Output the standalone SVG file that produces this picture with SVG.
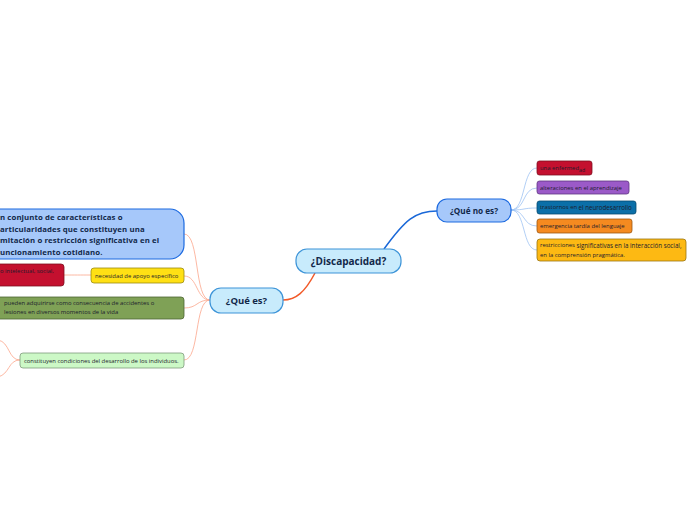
<svg xmlns="http://www.w3.org/2000/svg" width="696" height="520" viewBox="0 0 696 520">
<style>
text{font-family:"Open Sans","Noto Sans","Liberation Sans",sans-serif;fill:#1c1c2c}
.main{font-weight:bold;fill:#12284a;text-anchor:middle}
.sm{font-size:5.9px}
.big{font-size:7.8px;font-weight:bold;fill:#12284a;letter-spacing:0.1px}
.c1{fill:none;stroke:#fba68c;stroke-width:0.8}
.c2{fill:none;stroke:#9ec3f2;stroke-width:0.8}
</style>
<rect width="696" height="520" fill="#ffffff"/>
<g id="connectors">
<path d="M315,273 C305,292 296,300 283,300" fill="none" stroke="#f25a29" stroke-width="1.5"/>
<path d="M384,249 C405,220 415,211 437,211" fill="none" stroke="#1a68d8" stroke-width="1.5"/>
<path class="c1" d="M210,300 C194,300 200,234 184,234"/>
<path class="c1" d="M210,300 C196,300 198,276 184,276"/>
<path class="c1" d="M210,300 C196,300 198,308 184,308"/>
<path class="c1" d="M210,300 C194,300 200,360 184,360"/>
<path class="c1" d="M64,275 C76,275 79,275 91,275"/>
<path class="c1" d="M20,360 C8,360 10,342 -2,340"/>
<path class="c1" d="M20,360 C8,360 10,374 -2,377"/>
<path class="c2" d="M511,210 C526,210 522,168 537,168"/>
<path class="c2" d="M511,210 C526,210 522,188 537,188"/>
<path class="c2" d="M511,210 C526,210 522,208 537,208"/>
<path class="c2" d="M511,210 C526,210 522,226 537,226"/>
<path class="c2" d="M511,210 C526,210 522,250 537,250"/>
</g>
<g id="central">
<rect x="296" y="249" width="105" height="24" rx="11" fill="#c8ebfc" stroke="#3d94d8" stroke-width="1.2"/>
<text class="main" x="348.5" y="264.5" font-size="10">¿Discapacidad?</text>
</g>
<g id="que-es">
<rect x="210" y="288" width="73" height="25" rx="11" fill="#c8ebfc" stroke="#3d94d8" stroke-width="1.2"/>
<text class="main" x="246.5" y="304" font-size="9.5">¿Qué es?</text>
</g>
<g id="que-no-es">
<rect x="437" y="199" width="74" height="23" rx="10" fill="#a6c8fa" stroke="#1c6ae0" stroke-width="1.2"/>
<text class="main" x="474" y="213.5" font-size="8.2">¿Qué no es?</text>
</g>
<g id="n-enfermedad">
<rect x="537" y="161" width="55" height="14" rx="2.5" fill="#c4102f" stroke="#7d1020" stroke-width="0.8"/>
<text class="sm" x="540" y="170">una enfermed<tspan font-size="5.2" dy="1.5">ad</tspan></text>
</g>
<g id="n-aprendizaje">
<rect x="537" y="181" width="92" height="13" rx="2.5" fill="#9b5ac8" stroke="#5e3680" stroke-width="0.8"/>
<text class="sm" x="540" y="189.5">alteraciones en el aprendizaje</text>
</g>
<g id="n-neuro">
<rect x="537" y="201" width="99" height="13" rx="2.5" fill="#0b6fa8" stroke="#064a70" stroke-width="0.8"/>
<text class="sm" x="540" y="208.8">trastornos en <tspan font-size="6.2" dy="1">el neurodesarrollo</tspan></text>
</g>
<g id="n-lenguaje">
<rect x="537" y="219" width="95" height="14" rx="2.5" fill="#f58a20" stroke="#9a5510" stroke-width="0.8"/>
<text class="sm" x="540" y="228">emergencia tardía del lenguaje</text>
</g>
<g id="n-restricciones">
<rect x="537" y="239" width="149" height="22" rx="3" fill="#fdb913" stroke="#9a7510" stroke-width="0.8"/>
<text class="sm" x="540" y="246.5">restricciones <tspan font-size="6.2" dy="1">significativas en la interacción social,</tspan></text>
<text class="sm" x="540" y="256.5">en la comprensión pragmática.</text>
</g>
<g id="n-conjunto">
<rect x="-30" y="209" width="214" height="50" rx="14" fill="#a6c8fa" stroke="#1c6ae0" stroke-width="1.2"/>
<text class="big" x="0" y="220">n conjunto de características o</text>
<text class="big" x="0" y="231.5">articularidades que constituyen una</text>
<text class="big" x="0" y="243">mitación o restricción significativa en el</text>
<text class="big" x="0" y="254.5">uncionamiento cotidiano.</text>
</g>
<g id="n-intelectual">
<rect x="-20" y="264" width="84" height="22" rx="3" fill="#c4102f" stroke="#7d1020" stroke-width="0.8"/>
<text class="sm" x="0" y="273">o intelectual, social,</text>
</g>
<g id="n-apoyo">
<rect x="91" y="268" width="93" height="15" rx="3" fill="#ffe014" stroke="#9a8a10" stroke-width="0.8"/>
<text class="sm" x="95" y="277.5">necesidad de apoyo específico</text>
</g>
<g id="n-accidentes">
<rect x="-10" y="297" width="194" height="22" rx="3" fill="#7fa156" stroke="#4d6632" stroke-width="0.8"/>
<text class="sm" x="4" y="305">pueden adquirirse como consecuencia de accidentes o</text>
<text class="sm" x="4" y="314">lesiones en diversos momentos de la vida</text>
</g>
<g id="n-condiciones">
<rect x="20" y="353" width="164" height="15" rx="3" fill="#ccf8c6" stroke="#7f9a7c" stroke-width="0.8"/>
<text class="sm" x="24" y="362.5">constituyen condiciones del desarrollo de los individuos.</text>
</g>
</svg>
